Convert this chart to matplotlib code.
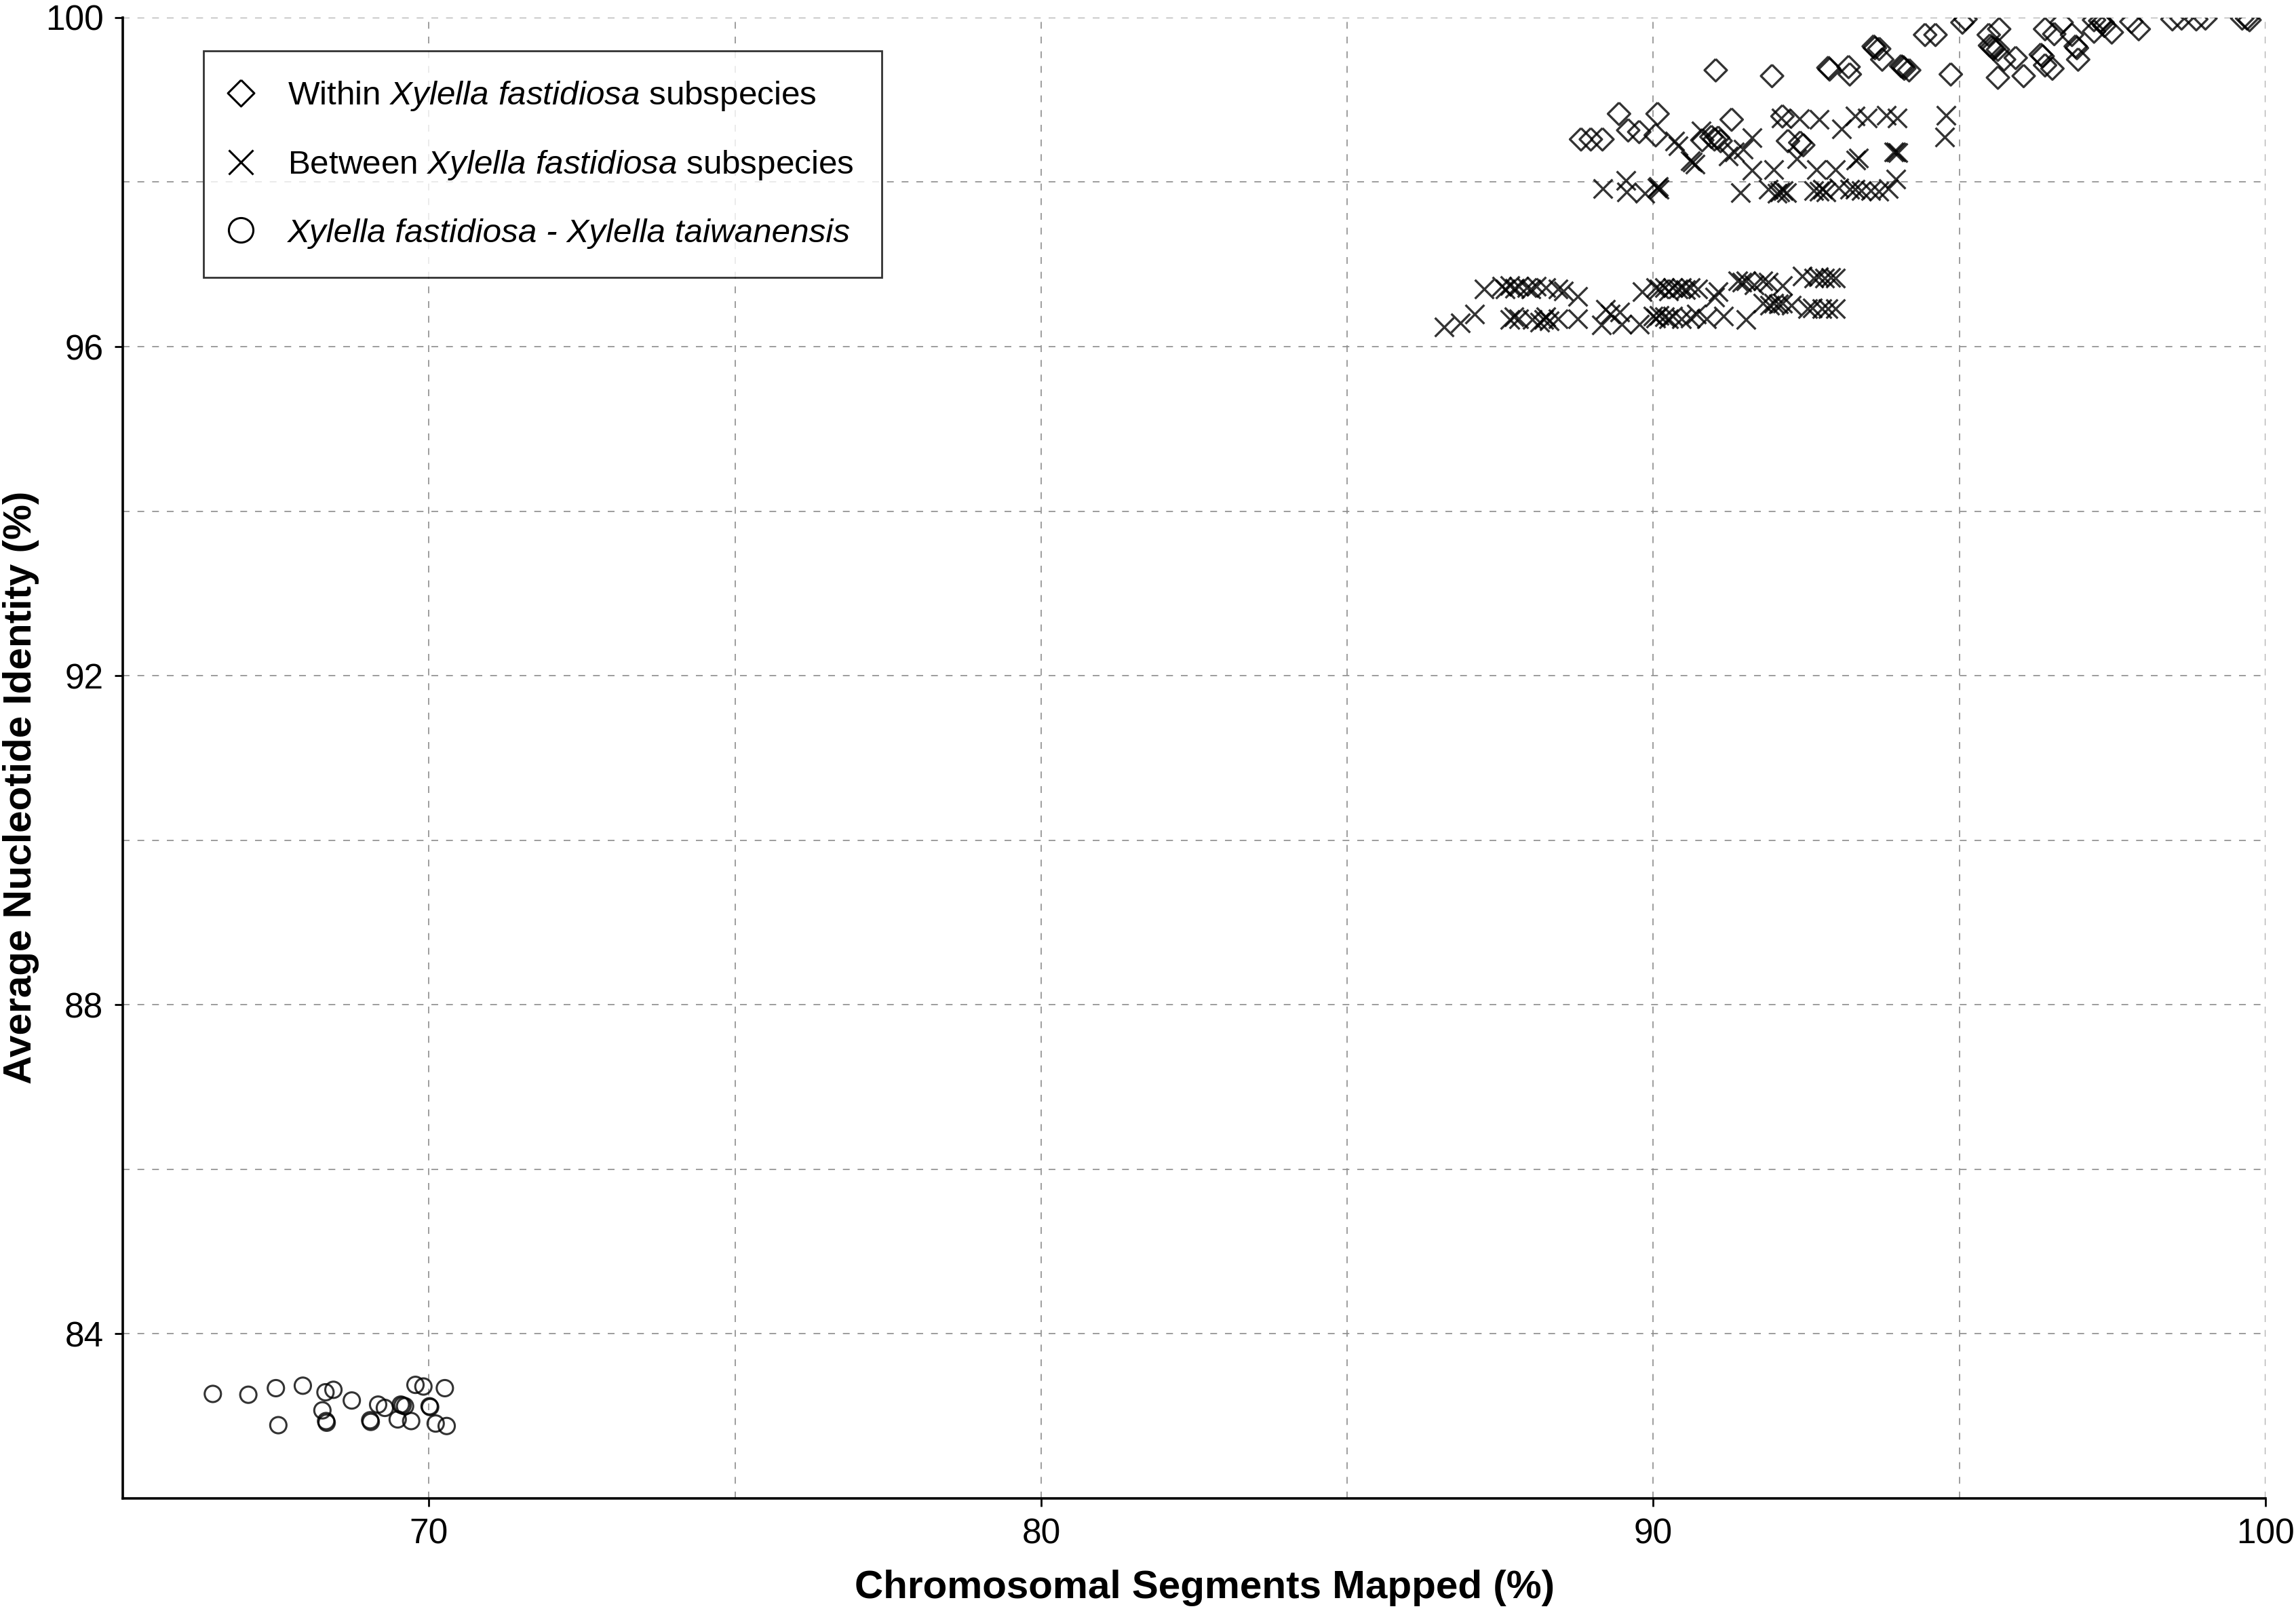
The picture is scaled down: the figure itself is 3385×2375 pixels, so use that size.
import matplotlib
matplotlib.use("Agg")
import matplotlib.pyplot as plt
from matplotlib.lines import Line2D
from matplotlib.ticker import MultipleLocator

plt.rcParams['font.family'] = ['Liberation Sans', 'DejaVu Sans']
plt.rcParams['mathtext.fontset'] = 'custom'
plt.rcParams['mathtext.rm'] = 'Liberation Sans'
plt.rcParams['mathtext.it'] = 'Liberation Sans:italic'

# Within Xylella fastidiosa subspecies (diamonds)
within_x = [88.82, 88.98, 89.17, 89.44, 89.59, 89.77, 90.04, 90.07, 90.80, 90.95, 91.00, 91.06,
            91.10, 91.28, 92.11, 92.20, 92.40, 92.45,
            91.02, 91.94, 92.86, 92.88, 93.19, 93.21, 93.60, 93.62, 93.69, 93.74, 94.05, 94.08,
            94.10, 94.18, 94.44, 94.61, 95.05, 95.10, 94.86, 95.48, 95.65, 95.50, 95.53, 95.56,
            95.63, 95.73, 95.92, 95.63, 96.05, 96.33, 96.36, 96.40, 96.52, 96.40, 96.55, 96.67,
            96.84, 96.90, 96.92, 96.94, 97.20, 97.20, 97.30, 97.34, 97.37, 97.49, 97.81, 97.93,
            98.48, 98.63, 98.87, 99.02, 99.62, 99.70, 99.74]
within_y = [98.52, 98.52, 98.52, 98.83, 98.63, 98.61, 98.57, 98.83, 98.51, 98.55, 98.52, 98.54,
            98.50, 98.76, 98.80, 98.50, 98.48, 98.45,
            99.36, 99.29, 99.39, 99.37, 99.40, 99.31, 99.65, 99.63, 99.62, 99.49, 99.41, 99.40,
            99.38, 99.36, 99.79, 99.79, 99.94, 99.98, 99.31, 99.79, 99.86, 99.66, 99.64, 99.62,
            99.61, 99.49, 99.51, 99.27, 99.29, 99.55, 99.53, 99.42, 99.38, 99.86, 99.80, 99.94,
            99.79, 99.65, 99.63, 99.49, 99.97, 99.83, 99.96, 99.94, 99.90, 99.82, 99.95, 99.86,
            99.98, 99.99, 99.98, 99.99, 99.99, 99.99, 99.97]

# Between Xylella fastidiosa subspecies (crosses)
between_x = [89.17, 89.55, 89.56, 89.86, 90.06, 90.08, 90.10, 90.35, 90.41, 90.60, 90.64, 90.68,
             90.78, 91.22, 91.33, 91.47, 91.61, 91.61, 91.42, 91.97, 92.09, 92.39, 92.71, 93.08,
             93.30, 91.88, 92.02, 92.07, 92.12, 92.18, 92.34, 92.66, 92.98, 93.35, 93.31, 92.62,
             92.71, 92.76, 92.82, 93.03, 93.21, 93.30, 93.40, 93.55, 93.69, 93.84, 93.50, 93.81,
             93.98, 94.78, 94.76, 93.93, 93.96, 93.99, 93.96,
             86.58, 86.85, 87.08, 87.24, 87.52, 87.58, 87.66, 87.73, 87.80, 87.93, 88.00, 88.09,
             88.25, 88.44, 88.53, 88.76, 87.66, 87.72, 87.80, 88.02, 88.15, 88.21, 88.25, 88.30,
             88.44, 88.76, 89.15, 89.22, 89.30, 89.45, 89.49, 89.77, 89.82, 90.04, 90.10, 90.18,
             90.25, 90.32, 90.40, 90.46, 90.53, 90.60, 90.73, 90.00, 90.04, 90.10, 90.18, 90.25,
             90.32, 90.46, 90.60, 90.70, 90.87, 91.06, 91.00, 91.15, 91.51, 91.38, 91.45, 91.51,
             91.65, 91.79, 91.88, 92.11, 91.79, 91.90, 91.97, 92.05, 92.11, 92.25, 92.52, 92.60,
             92.75, 92.85, 92.98, 92.43, 92.62, 92.70, 92.80, 92.90, 92.98]
between_y = [97.92, 98.02, 97.88, 97.86, 97.93, 97.95, 97.91, 98.50, 98.44, 98.26, 98.24, 98.22,
             98.62, 98.32, 98.37, 98.40, 98.54, 98.14, 97.87, 98.15, 98.78, 98.77, 98.76, 98.65,
             98.80, 97.91, 97.86, 97.88, 97.90, 97.87, 98.28, 98.15, 98.15, 98.29, 98.27, 97.90,
             97.89, 97.91, 97.88, 97.93, 97.91, 97.91, 97.90, 97.90, 97.89, 97.92, 98.78, 98.81,
             98.78, 98.81, 98.55, 98.37, 98.37, 98.36, 98.04,
             96.24, 96.29, 96.40, 96.70, 96.73, 96.70, 96.74, 96.71, 96.73, 96.72, 96.70, 96.73,
             96.72, 96.70, 96.68, 96.61, 96.33, 96.36, 96.34, 96.33, 96.30, 96.33, 96.36, 96.31,
             96.34, 96.34, 96.26, 96.45, 96.40, 96.42, 96.27, 96.27, 96.67, 96.72, 96.70, 96.72,
             96.68, 96.72, 96.70, 96.72, 96.69, 96.72, 96.70, 96.37, 96.35, 96.38, 96.36, 96.34,
             96.37, 96.34, 96.35, 96.40, 96.34, 96.67, 96.60, 96.37, 96.33, 96.80, 96.78, 96.80,
             96.75, 96.80, 96.78, 96.74, 96.53, 96.50, 96.53, 96.52, 96.53, 96.50, 96.46, 96.47,
             96.46, 96.46, 96.46, 96.86, 96.83, 96.85, 96.83, 96.84, 96.83]

# Xylella fastidiosa - Xylella taiwanensis (circles)
taiw_x = [66.47, 67.05, 67.50, 67.94, 68.31, 68.44, 68.74, 68.26, 67.54, 68.32, 68.33, 69.04,
          69.05, 69.17, 69.28, 69.54, 69.57, 69.61, 69.49, 69.71, 69.78, 69.91, 70.26, 70.01,
          70.02, 70.11, 70.29]
taiw_y = [83.27, 83.26, 83.34, 83.37, 83.29, 83.32, 83.19, 83.07, 82.89, 82.94, 82.92, 82.95,
          82.93, 83.14, 83.10, 83.14, 83.13, 83.12, 82.96, 82.94, 83.38, 83.36, 83.34, 83.12,
          83.11, 82.91, 82.88]

labels = [r'Within $\mathit{Xylella\ fastidiosa}$ subspecies',
          r'Between $\mathit{Xylella\ fastidiosa}$ subspecies',
          'Xylella fastidiosa - Xylella taiwanensis']

diamond = [(0, 1), (1, 0), (0, -1), (-1, 0), (0, 1)]

fig = plt.figure(figsize=(16.925, 11.875), dpi=200)
ax = fig.add_axes([0.0535, 0.0699, 0.9332, 0.9192])

ax.scatter(within_x, within_y, s=140, marker=diamond, facecolors='none',
           edgecolors='black', linewidths=1.2, alpha=0.8, zorder=3)
ax.scatter(between_x, between_y, s=100, marker='x', color='black',
           linewidths=1.2, alpha=0.8, zorder=3)
ax.scatter(taiw_x, taiw_y, s=75, marker='o', facecolors='none',
           edgecolors='black', linewidths=1.1, alpha=0.8, zorder=3)

ax.set_xlim(65, 100)
ax.set_ylim(82, 100)
ax.xaxis.set_major_locator(MultipleLocator(10))
ax.xaxis.set_minor_locator(MultipleLocator(5))
ax.yaxis.set_major_locator(MultipleLocator(4))
ax.yaxis.set_minor_locator(MultipleLocator(2))
ax.grid(True, which='both', color='#8c8c8c', linewidth=0.6, linestyle=(0, (6, 7)), zorder=0)
ax.set_axisbelow(True)

for side in ['top', 'right']:
    ax.spines[side].set_visible(False)
for side in ['left', 'bottom']:
    ax.spines[side].set_linewidth(1.3)
    ax.spines[side].set_zorder(4)

ax.tick_params(which='major', length=4.3, width=1.0, labelsize=18.5, pad=6)
ax.tick_params(which='minor', length=0)

ax.set_xlabel('Chromosomal Segments Mapped (%)', fontsize=21, fontweight='bold')
ax.set_ylabel('Average Nucleotide Identity (%)', fontsize=21, fontweight='bold')
ax.xaxis.set_label_coords(0.505, -0.048)
ax.yaxis.set_label_coords(-0.039, 0.48)

handles = [
    Line2D([], [], linestyle='none', marker=diamond, markersize=14,
           markerfacecolor='none', markeredgecolor='black', markeredgewidth=1.1),
    Line2D([], [], linestyle='none', marker='x', markersize=13,
           color='black', markeredgewidth=1.1),
    Line2D([], [], linestyle='none', marker='o', markersize=13,
           markerfacecolor='none', markeredgecolor='black', markeredgewidth=1.1),
]
leg = ax.legend(handles, labels, loc='upper left', bbox_to_anchor=(0.0377, 0.9776),
                borderaxespad=0, fontsize=17.8, frameon=True, fancybox=False,
                edgecolor='black', handlelength=0.5, handletextpad=1.15,
                borderpad=0.85, labelspacing=1.08)
leg.get_frame().set_linewidth(1.0)
leg.get_texts()[2].set_fontstyle('italic')

fig.savefig('out.png', dpi=200)
